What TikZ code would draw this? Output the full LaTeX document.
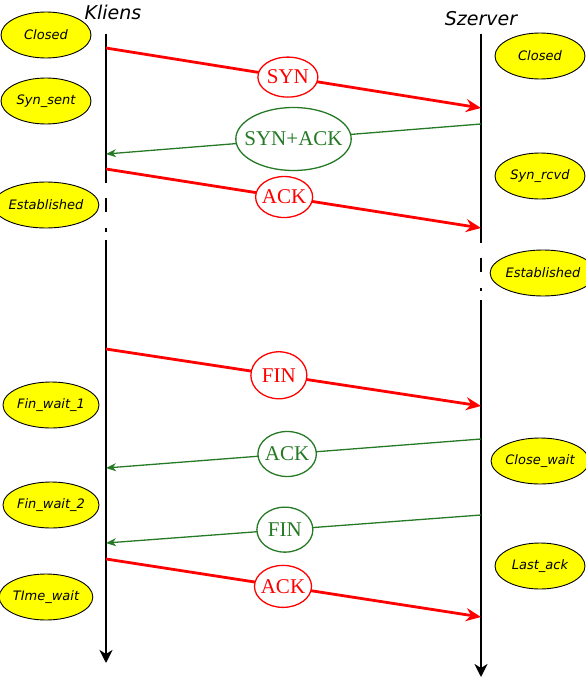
\documentclass[tikz,border=0pt]{standalone}
\usepackage{fontspec}
\setmainfont{Liberation Serif}
\setsansfont{DejaVu Sans}
\usetikzlibrary{arrows.meta,shapes.geometric}
\definecolor{msgred}{RGB}{255,0,0}
\definecolor{msggreen}{RGB}{38,122,38}
\definecolor{stateyellow}{RGB}{255,255,0}
\begin{document}
\begin{tikzpicture}[x=1pt,y=-1pt,
  state/.style={ellipse,draw=black,line width=0.9pt,fill=stateyellow,inner sep=0pt,
    minimum width=90pt,minimum height=46pt,font=\fontsize{13}{15}\selectfont\sffamily\itshape},
  actor/.style={inner sep=0pt,font=\fontsize{19}{22}\selectfont\sffamily\itshape},
  life/.style={line width=2.8pt,black},
  lifearrow/.style={life,-{Stealth[length=13pt,width=13pt,inset=4pt]}},
  redmsg/.style={line width=2.8pt,msgred,-{Stealth[length=15pt,width=13pt,inset=5pt]}},
  greenmsg/.style={line width=1.3pt,msggreen,-{Stealth[length=10pt,width=8pt,inset=3pt]}},
  redlab/.style={ellipse,draw=msgred,line width=1.3pt,fill=white,text=msgred,inner sep=0pt,
    font=\fontsize{21}{24}\selectfont},
  greenlab/.style={ellipse,draw=msggreen,line width=1.3pt,fill=white,text=msggreen,inner sep=0pt,
    font=\fontsize{21}{24}\selectfont}
]
\useasboundingbox (0,0) rectangle (586,680);

% actors
\node[actor] (kliens) at (113,12) {Kliens};
\node[actor] (szerver) at (481,19) {Szerver};

% lifeline coordinates
\coordinate (LA) at (106,34);
\coordinate (LB) at (106,183);
\coordinate (LC) at (106,198);
\coordinate (LD) at (106,212);
\coordinate (LE) at (106,228);
\coordinate (LF) at (106,232);
\coordinate (LG) at (106,240);
\coordinate (LH) at (106,663);
\coordinate (RA) at (481,34);
\coordinate (RB) at (481,243);
\coordinate (RC) at (481,258);
\coordinate (RD) at (481,272);
\coordinate (RE) at (481,288);
\coordinate (RF) at (481,291);
\coordinate (RG) at (481,300);
\coordinate (RH) at (481,677);

\draw[life] (LA) -- (LB);
\draw[life] (LC) -- (LD);
\draw[life] (LE) -- (LF);
\draw[lifearrow] (LG) -- (LH);
\draw[life] (RA) -- (RB);
\draw[life] (RC) -- (RD);
\draw[life] (RE) -- (RF);
\draw[lifearrow] (RG) -- (RH);

% message end points
\coordinate (m1s) at (106,48);   \coordinate (m1e) at (481,108);
\coordinate (m2s) at (481,124);  \coordinate (m2e) at (106,154);
\coordinate (m3s) at (106,169);  \coordinate (m3e) at (481,228);
\coordinate (m4s) at (106,349);  \coordinate (m4e) at (481,406);
\coordinate (m5s) at (481,439);  \coordinate (m5e) at (106,468);
\coordinate (m6s) at (481,515);  \coordinate (m6e) at (106,543);
\coordinate (m7s) at (106,559);  \coordinate (m7e) at (481,617);

\draw[redmsg] (m1s) -- node[redlab,pos=0.485,minimum width=60pt,minimum height=40pt] (syn) {SYN} (m1e);
\draw[greenmsg] (m2s) -- node[greenlab,pos=0.5,inner xsep=-8.3pt,minimum height=63pt] (synack) {SYN+ACK} (m2e);
\draw[redmsg] (m3s) -- node[redlab,pos=0.475,inner xsep=-2pt,minimum height=41pt] (ack1) {ACK} (m3e);
\draw[redmsg] (m4s) -- node[redlab,pos=0.461,minimum width=56pt,minimum height=47pt] (fin1) {FIN} (m4e);
\draw[greenmsg] (m5s) -- node[greenlab,pos=0.517,inner xsep=-1.5pt,minimum height=45pt] (ack2) {ACK} (m5e);
\draw[greenmsg] (m6s) -- node[greenlab,pos=0.523,minimum width=56pt,minimum height=45pt] (fin2) {FIN} (m6e);
\draw[redmsg] (m7s) -- node[redlab,pos=0.472,inner xsep=-2pt,minimum height=42pt] (ack3) {ACK} (m7e);

% client states
\node[state] (c1) at (46,35) {Closed};
\node[state] (c2) at (46,101) {Syn\_sent};
\node[state] (c3) at (46,205) {Established};
\node[state] (c4) at (51,405) {Fin\_wait\_1};
\node[state] (c5) at (51,505) {Fin\_wait\_2};
\node[state] (c6) at (46,597) {TIme\_wait};

% server states
\node[state] (s1) at (540,56) {Closed};
\node[state] (s2) at (540,176) {Syn\_rcvd};
\node[state] (s3) at (543,273) {Established};
\node[state] (s4) at (540,461) {Close\_wait};
\node[state] (s5) at (540,566) {Last\_ack};
\end{tikzpicture}
\end{document}
